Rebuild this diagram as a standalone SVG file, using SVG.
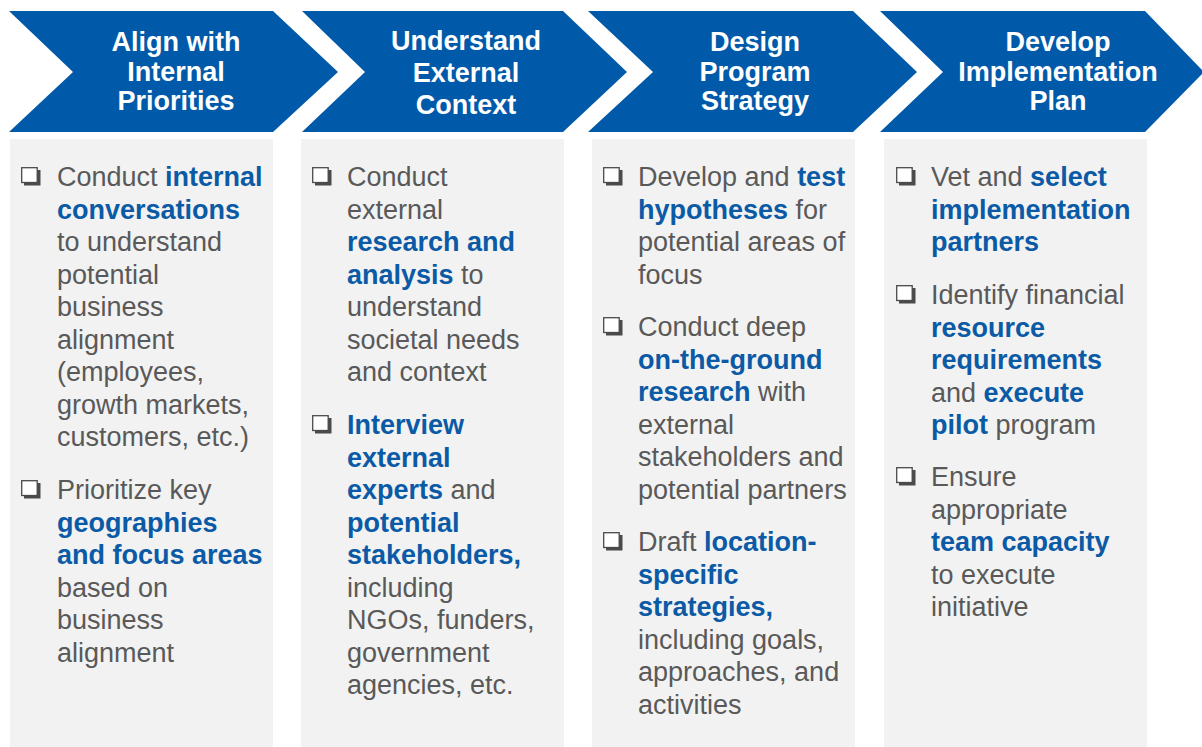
<svg xmlns="http://www.w3.org/2000/svg" width="1202" height="747" viewBox="0 0 1202 747">
<defs>
<style>
.chev{fill:#005AA9;}
.panel{fill:#F2F2F2;}
.hd{font-family:"Liberation Sans",Arial,sans-serif;font-weight:bold;font-size:27px;fill:#FFFFFF;text-anchor:middle;}
.tx{font-family:"Liberation Sans",Arial,sans-serif;font-size:27px;fill:#595959;}
.b{font-weight:bold;fill:#0B5AA6;}
.cbf{fill:#FFFFFF;stroke:#4A4A4A;stroke-width:1.3;}
.cbs{fill:#4A4A4A;}
</style>
<g id="cb">
<rect class="cbf" x="0.7" y="0.7" width="15.5" height="14.8"/>
<path class="cbs" d="M16.2,3 H19.5 V18.5 H3 V15.5 H16.2 Z"/>
</g>
</defs>
<rect width="1202" height="747" fill="#FFFFFF"/>

<g id="step1">
<polygon class="chev" points="9,11 273,11 338,72 273,132 9,132 73,72"/>
<text class="hd"><tspan x="176" y="51">Align with</tspan><tspan x="176" y="81">Internal</tspan><tspan x="176" y="110">Priorities</tspan></text>
<rect class="panel" x="10" y="139" width="263" height="608"/>
<use href="#cb" x="21" y="167"/>
<text class="tx"><tspan x="57" y="186">Conduct <tspan class="b">internal</tspan></tspan><tspan x="57" y="218.5" class="b">conversations</tspan><tspan x="57" y="251">to understand</tspan><tspan x="57" y="283.5">potential</tspan><tspan x="57" y="316">business</tspan><tspan x="57" y="348.5">alignment</tspan><tspan x="57" y="381">(employees,</tspan><tspan x="57" y="413.5">growth markets,</tspan><tspan x="57" y="446">customers, etc.)</tspan></text>
<use href="#cb" x="21" y="480"/>
<text class="tx"><tspan x="57" y="499">Prioritize key</tspan><tspan x="57" y="531.5" class="b">geographies</tspan><tspan x="57" y="564" class="b">and focus areas</tspan><tspan x="57" y="596.5">based on</tspan><tspan x="57" y="629">business</tspan><tspan x="57" y="661.5">alignment</tspan></text>
</g>

<g id="step2">
<polygon class="chev" points="302,11 563,11 627,72 563,132 302,132 365,72"/>
<text class="hd"><tspan x="466" y="50">Understand</tspan><tspan x="466" y="82">External</tspan><tspan x="466" y="114">Context</tspan></text>
<rect class="panel" x="301" y="139" width="263" height="608"/>
<use href="#cb" x="312" y="167"/>
<text class="tx"><tspan x="347" y="186">Conduct</tspan><tspan x="347" y="218.5">external</tspan><tspan x="347" y="251" class="b">research and</tspan><tspan x="347" y="283.5"><tspan class="b">analysis</tspan> to</tspan><tspan x="347" y="316">understand</tspan><tspan x="347" y="348.5">societal needs</tspan><tspan x="347" y="381">and context</tspan></text>
<use href="#cb" x="312" y="415"/>
<text class="tx"><tspan x="347" y="434" class="b">Interview</tspan><tspan x="347" y="466.5" class="b">external</tspan><tspan x="347" y="499"><tspan class="b">experts</tspan> and</tspan><tspan x="347" y="531.5" class="b">potential</tspan><tspan x="347" y="564" class="b">stakeholders,</tspan><tspan x="347" y="596.5">including</tspan><tspan x="347" y="629">NGOs, funders,</tspan><tspan x="347" y="661.5">government</tspan><tspan x="347" y="694">agencies, etc.</tspan></text>
</g>

<g id="step3">
<polygon class="chev" points="588,11 853,11 917,72 853,132 588,132 653,72"/>
<text class="hd"><tspan x="755" y="51">Design</tspan><tspan x="755" y="81">Program</tspan><tspan x="755" y="110">Strategy</tspan></text>
<rect class="panel" x="592" y="139" width="263" height="608"/>
<use href="#cb" x="603" y="167"/>
<text class="tx"><tspan x="638" y="186">Develop and <tspan class="b">test</tspan></tspan><tspan x="638" y="218.5"><tspan class="b">hypotheses</tspan> for</tspan><tspan x="638" y="251">potential areas of</tspan><tspan x="638" y="283.5">focus</tspan></text>
<use href="#cb" x="603" y="317"/>
<text class="tx"><tspan x="638" y="336">Conduct deep</tspan><tspan x="638" y="368.5" class="b">on-the-ground</tspan><tspan x="638" y="401"><tspan class="b">research</tspan> with</tspan><tspan x="638" y="433.5">external</tspan><tspan x="638" y="466">stakeholders and</tspan><tspan x="638" y="498.5">potential partners</tspan></text>
<use href="#cb" x="603" y="532"/>
<text class="tx"><tspan x="638" y="551">Draft <tspan class="b">location-</tspan></tspan><tspan x="638" y="583.5" class="b">specific</tspan><tspan x="638" y="616" class="b">strategies,</tspan><tspan x="638" y="648.5">including goals,</tspan><tspan x="638" y="681">approaches, and</tspan><tspan x="638" y="713.5">activities</tspan></text>
</g>

<g id="step4">
<polygon class="chev" points="880,11 1145,11 1202,70 1202,74 1145,132 880,132 943,72"/>
<text class="hd"><tspan x="1058" y="51">Develop</tspan><tspan x="1058" y="81">Implementation</tspan><tspan x="1058" y="110">Plan</tspan></text>
<rect class="panel" x="884" y="139" width="263" height="608"/>
<use href="#cb" x="896" y="167"/>
<text class="tx"><tspan x="931" y="186">Vet and <tspan class="b">select</tspan></tspan><tspan x="931" y="218.5" class="b">implementation</tspan><tspan x="931" y="251" class="b">partners</tspan></text>
<use href="#cb" x="896" y="285"/>
<text class="tx"><tspan x="931" y="304">Identify financial</tspan><tspan x="931" y="336.5" class="b">resource</tspan><tspan x="931" y="369" class="b">requirements</tspan><tspan x="931" y="401.5">and <tspan class="b">execute</tspan></tspan><tspan x="931" y="434"><tspan class="b">pilot</tspan> program</tspan></text>
<use href="#cb" x="896" y="467"/>
<text class="tx"><tspan x="931" y="486">Ensure</tspan><tspan x="931" y="518.5">appropriate</tspan><tspan x="931" y="551" class="b">team capacity</tspan><tspan x="931" y="583.5">to execute</tspan><tspan x="931" y="616">initiative</tspan></text>
</g>

<g id="connectors"></g>
</svg>
